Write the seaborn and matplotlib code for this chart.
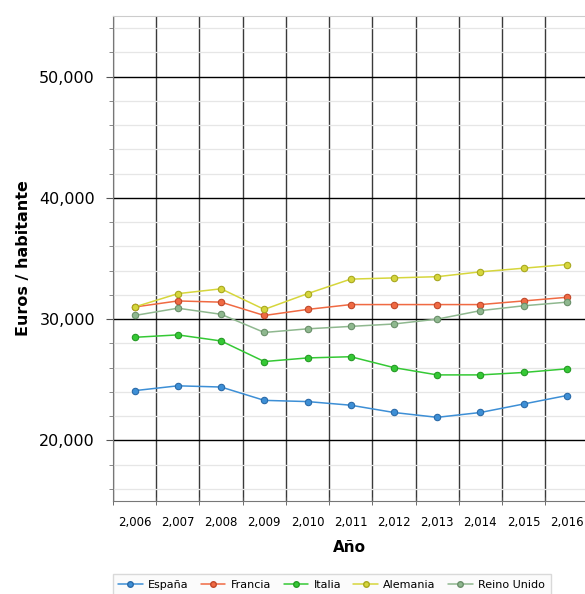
import pandas as pd
import matplotlib.pyplot as plt
import seaborn as sns
from matplotlib.ticker import MultipleLocator, FuncFormatter

sns.set_style("white")
plt.rcParams['font.family'] = ['DejaVu Sans']
plt.rcParams['text.color'] = 'black'
plt.rcParams['axes.labelcolor'] = 'black'
plt.rcParams['xtick.color'] = 'black'
plt.rcParams['ytick.color'] = 'black'

years = [2006, 2007, 2008, 2009, 2010, 2011, 2012, 2013, 2014, 2015, 2016]
espana = [24100, 24500, 24400, 23300, 23200, 22900, 22300, 21900, 22300, 23000, 23700]
francia = [31000, 31500, 31400, 30300, 30800, 31200, 31200, 31200, 31200, 31500, 31800]
italia = [28500, 28700, 28200, 26500, 26800, 26900, 26000, 25400, 25400, 25600, 25900]
alemania = [31000, 32100, 32500, 30800, 32100, 33300, 33400, 33500, 33900, 34200, 34500]
reino_unido = [30300, 30900, 30400, 28900, 29200, 29400, 29600, 30000, 30700, 31100, 31400]

countries = ['España', 'Francia', 'Italia', 'Alemania', 'Reino Unido']
colors = ['#3d8fd6', '#f06a43', '#35c935', '#d6d63c', '#8fb88f']
edges = ['#2a6aa8', '#c0482a', '#259a25', '#a8a820', '#6a8f6a']

series = [espana, francia, italia, alemania, reino_unido]
df = pd.DataFrame({
    'Año': years * len(countries),
    'Euros': sum(series, []),
    'País': [c for c in countries for _ in years],
})

fig = plt.figure(figsize=(5.85, 5.94), dpi=100)
ax = fig.add_axes([113 / 585, 1 - 501 / 594, 1 - 113 / 585, (501 - 16) / 594])

sns.lineplot(data=df, x='Año', y='Euros', hue='País', palette=colors,
             marker='o', markersize=4.6, linewidth=1.1, ax=ax, legend=False,
             zorder=3)
for line, ec in zip(ax.lines, edges):
    line.set_markeredgecolor(ec)
    line.set_markeredgewidth(0.8)

ax.set_xlim(2005.5, 2016.42)
ax.set_ylim(15000, 55000)

ax.xaxis.set_major_locator(MultipleLocator(1))
ax.xaxis.set_minor_locator(MultipleLocator(1, offset=0.5))
ax.yaxis.set_major_locator(MultipleLocator(10000))
ax.yaxis.set_minor_locator(MultipleLocator(2000))
fmt = FuncFormatter(lambda v, p: f'{v:,.0f}')
ax.xaxis.set_major_formatter(fmt)
ax.yaxis.set_major_formatter(fmt)

ax.grid(which='major', axis='y', color='black', linewidth=1.0)
ax.grid(which='minor', axis='y', color='#e6e6e6', linewidth=0.9)
ax.grid(which='minor', axis='x', color='#3a3a3a', linewidth=1.0)
ax.set_axisbelow(True)

ax.tick_params(axis='x', which='major', length=0, pad=11, labelsize=8.5)
ax.tick_params(axis='x', which='minor', length=6, direction='inout',
               color='#555555', bottom=True)
ax.tick_params(axis='y', which='major', length=5, color='#555555',
               labelsize=11.5, left=True, pad=8)
ax.tick_params(axis='y', which='minor', length=3, color='#777777', left=True)

for side in ['left', 'bottom']:
    ax.spines[side].set_color('#777777')
ax.spines['top'].set_color('#cccccc')
ax.spines['right'].set_visible(False)

ax.set_xlabel('Año', fontsize=11, fontweight='bold', labelpad=8)
ax.set_ylabel('Euros / habitante', fontsize=11.5, fontweight='bold', labelpad=6)

handles = [plt.Line2D([], [], color=c, marker='o', markersize=4,
                      markeredgecolor=e, linewidth=1.1)
           for c, e in zip(colors, edges)]
leg = fig.legend(handles, countries, loc='lower left',
                 bbox_to_anchor=(107 / 585, -0.012), ncol=5, fontsize=8,
                 frameon=True, fancybox=False, handlelength=2.2,
                 columnspacing=1.1, handletextpad=0.5, borderpad=0.5)
leg.get_frame().set_edgecolor('#d0d0d0')
leg.get_frame().set_facecolor('#fafafa')

fig.savefig('out.png', dpi=100)
